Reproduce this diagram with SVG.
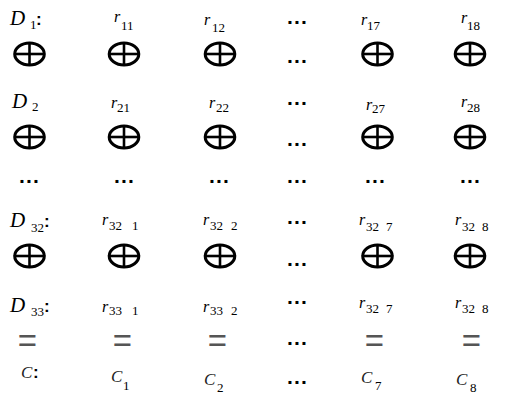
<svg xmlns="http://www.w3.org/2000/svg" width="521" height="397" viewBox="0 0 521 397">
<style>
.v{font-family:"Liberation Serif",serif;font-style:italic;font-size:21px;fill:#000}
.r{font-family:"Liberation Serif",serif;font-style:italic;font-size:16px;fill:#000}
.c{font-family:"Liberation Serif",serif;font-style:italic;font-size:17px;fill:#222}
.s{font-family:"Liberation Serif",serif;font-size:13px;fill:#000}
.col{font-family:"Liberation Sans",sans-serif;font-weight:bold;font-size:17px;fill:#000}
.d{font-family:"Liberation Sans",sans-serif;font-weight:bold;font-size:21px;fill:#000;text-anchor:middle}
.eq{font-family:"Liberation Sans",sans-serif;font-size:33px;fill:#555;text-anchor:middle}
.o ellipse{fill:none;stroke:#000;stroke-width:3}
.o line{stroke:#000;stroke-width:2.6}
</style>
<defs>
<g id="op" class="o"><ellipse cx="0" cy="0" rx="14.8" ry="11"/><line x1="-14.8" y1="0" x2="14.8" y2="0"/><line x1="0" y1="-11" x2="0" y2="11"/></g>
</defs>
<!-- row 0 labels -->
<text class="v" x="10" y="25">D</text><text class="s" x="30" y="29">1</text><text class="col" x="36" y="25">:</text>
<text class="r" x="114" y="22">r</text><text class="s" x="121" y="30">11</text>
<text class="r" x="204" y="25">r</text><text class="s" x="212" y="32">12</text>
<text class="d" x="297.5" y="29">···</text>
<text class="r" x="361" y="25">r</text><text class="s" x="367" y="30">17</text>
<text class="r" x="461" y="23">r</text><text class="s" x="467" y="30">18</text>
<!-- row 1 -->
<use href="#op" x="29.5" y="54"/><use href="#op" x="124" y="54"/><use href="#op" x="220" y="54"/>
<text class="d" x="297.5" y="68">···</text>
<use href="#op" x="377.5" y="54"/><use href="#op" x="470" y="54"/>
<!-- row 2 labels -->
<text class="v" x="12" y="108">D</text><text class="s" x="32" y="111">2</text>
<text class="r" x="111" y="108">r</text><text class="s" x="117" y="112">21</text>
<text class="r" x="209" y="108">r</text><text class="s" x="216" y="112">22</text>
<text class="d" x="297.5" y="110">···</text>
<text class="r" x="366" y="110">r</text><text class="s" x="372" y="113">27</text>
<text class="r" x="461" y="107">r</text><text class="s" x="467" y="112">28</text>
<!-- row 3 -->
<use href="#op" x="29.5" y="137"/><use href="#op" x="124" y="137"/><use href="#op" x="220" y="137"/>
<text class="d" x="297.5" y="151">···</text>
<use href="#op" x="377.5" y="137"/><use href="#op" x="470" y="137"/>
<!-- row 4 dots -->
<text class="d" x="29.5" y="188">···</text><text class="d" x="124.5" y="188">···</text><text class="d" x="219.5" y="188">···</text>
<text class="d" x="297.5" y="188">···</text><text class="d" x="375.5" y="188">···</text><text class="d" x="470.5" y="188">···</text>
<!-- row 5 labels -->
<text class="v" x="10" y="227">D</text><text class="s" x="31" y="232">32</text><text class="col" x="44" y="227">:</text>
<text class="r" x="102" y="225">r</text><text class="s" y="230"><tspan x="109">32</tspan><tspan x="132">1</tspan></text>
<text class="r" x="203" y="225">r</text><text class="s" y="230"><tspan x="210">32</tspan><tspan x="231">2</tspan></text>
<text class="d" x="297.5" y="229">···</text>
<text class="r" x="359" y="225">r</text><text class="s" y="231"><tspan x="366">32</tspan><tspan x="386">7</tspan></text>
<text class="r" x="455" y="225">r</text><text class="s" y="231"><tspan x="462">32</tspan><tspan x="482">8</tspan></text>
<!-- row 6 -->
<use href="#op" x="29.5" y="256"/><use href="#op" x="124" y="256"/><use href="#op" x="220" y="256"/>
<text class="d" x="297.5" y="271">···</text>
<use href="#op" x="377.5" y="256"/><use href="#op" x="470" y="256"/>
<!-- row 7 labels -->
<text class="v" x="10" y="312">D</text><text class="s" x="31" y="316">33</text><text class="col" x="44" y="312">:</text>
<text class="r" x="102" y="312">r</text><text class="s" y="315"><tspan x="109">33</tspan><tspan x="132">1</tspan></text>
<text class="r" x="203" y="312">r</text><text class="s" y="315"><tspan x="210">33</tspan><tspan x="231">2</tspan></text>
<text class="d" x="297.5" y="309">···</text>
<text class="r" x="359" y="308">r</text><text class="s" y="313"><tspan x="366">32</tspan><tspan x="386">7</tspan></text>
<text class="r" x="455" y="308">r</text><text class="s" y="313"><tspan x="462">32</tspan><tspan x="482">8</tspan></text>
<!-- row 8 equals -->
<text class="eq" x="27.5" y="352">=</text><text class="eq" x="122.5" y="352">=</text><text class="eq" x="217.5" y="352">=</text>
<text class="d" x="297.5" y="350">···</text>
<text class="eq" x="374.5" y="352">=</text><text class="eq" x="471.5" y="352">=</text>
<!-- row 9 -->
<text class="c" x="21" y="378">C</text><text class="col" x="33" y="378">:</text>
<text class="c" x="111" y="382">C</text><text class="s" x="123" y="390">1</text>
<text class="c" x="204" y="385">C</text><text class="s" x="217" y="392">2</text>
<text class="d" x="297.5" y="389">···</text>
<text class="c" x="361" y="383">C</text><text class="s" x="375" y="390">7</text>
<text class="c" x="456" y="385">C</text><text class="s" x="470" y="392">8</text>
</svg>
